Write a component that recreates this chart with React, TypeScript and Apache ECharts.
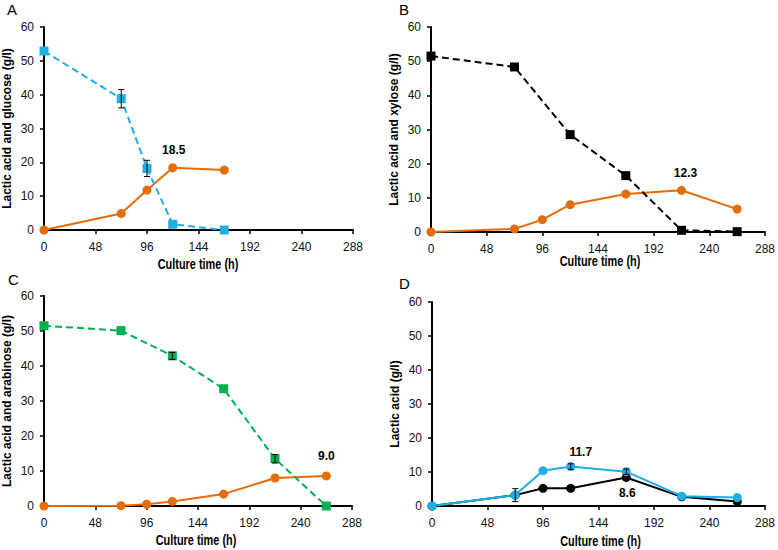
import React, { useEffect, useRef } from "react";
import * as echarts from "echarts";

// ---- Data ----
const xTicks = [0, 48, 96, 144, 192, 240, 288];
const yTicks = [0, 10, 20, 30, 40, 50, 60];

// Panel A
const timeGlucoseA = [0, 72, 96, 120, 168];
const glucoseA = [52.9, 38.8, 18.2, 1.7, 0];
const glucoseErrA = [0, 2.7, 2.4, 0, 0];
const timeLacticA = [0, 72, 96, 120, 168];
const lacticA = [0, 4.9, 11.8, 18.4, 17.7];
const peakA = { index: 3, text: "18.5" };

// Panel B
const timeXyloseB = [0, 72, 120, 168, 216, 264];
const xyloseB = [51.5, 48.3, 28.5, 16.5, 0.5, 0.1];
const timeLacticB = [0, 72, 96, 120, 168, 216, 264];
const lacticB = [0, 0.9, 3.6, 8.0, 11.1, 12.2, 6.7];
const peakB = { index: 5, text: "12.3" };

// Panel C
const timeArabinoseC = [0, 72, 120, 168, 216, 264];
const arabinoseC = [51.5, 50.1, 42.9, 33.5, 13.5, 0];
const arabinoseErrC = [0, 0, 1.0, 0, 1.2, 0];
const timeLacticC = [0, 72, 96, 120, 168, 216, 264];
const lacticC = [0, 0.1, 0.5, 1.3, 3.4, 8.0, 8.6];
const peakC = { index: 6, text: "9.0" };

// Panel D
const timeD = [0, 72, 96, 120, 168, 216, 264];
const lacticBlackD = [0, 3.2, 5.2, 5.2, 8.4, 2.7, 1.3];
const lacticBlackErrD = [0, 1.9, 0, 0, 0, 0, 0];
const lacticBlueD = [0, 3.2, 10.4, 11.6, 10.1, 2.9, 2.5];
const lacticBlueErrD = [0, 0, 0, 0.8, 0.8, 0, 0];
const peakBlackD = { index: 4, text: "8.6" };
const peakBlueD = { index: 3, text: "11.7" };

const panelLetters = ["A", "B", "C", "D"];
const yNames = [
  "Lactic acid and glucose (g/l)",
  "Lactic acid and xylose (g/l)",
  "Lactic acid and arabinose (g/l)",
  "Lactic acid (g/l)",
];
const xName = "Culture time (h)";

// ---- Styles ----
const FONT = "'Liberation Sans', Arial, sans-serif";
const ORANGE = "#E46C0A";
const BLUE = "#1FAEE6";
const GREEN = "#00B050";
const BLACK = "#000000";

const grids = [
  { left: 43, top: 27, width: 310, height: 203 },
  { left: 431, top: 27, width: 338, height: 205 },
  { left: 40, top: 296, width: 312, height: 210 },
  { left: 432, top: 302, width: 337, height: 204 },
];
const xTitleOffset = [35, 30, 35, 36];
const letterPos = [
  { left: 7, top: 2 },
  { left: 399, top: 2 },
  { left: 8, top: 272 },
  { left: 399, top: 276 },
];

function buildData(times: number[], vals: number[], peak?: { index: number; text: string }, labelCfg?: any) {
  return times.map((t, i) => {
    if (peak && peak.index === i) {
      return {
        value: [t, vals[i]],
        label: {
          show: true,
          formatter: peak.text,
          fontFamily: FONT,
          fontWeight: "bold",
          fontSize: 12,
          color: "#000",
          ...labelCfg,
        },
      };
    }
    return [t, vals[i]];
  });
}

function lineSeries(idx: number, times: number[], vals: number[], color: string, symbol: string, dashed: boolean, peak?: any, labelCfg?: any) {
  return {
    type: "line",
    xAxisIndex: idx,
    yAxisIndex: idx,
    data: buildData(times, vals, peak, labelCfg),
    symbol,
    symbolSize: symbol === "rect" ? 9 : 9,
    showSymbol: true,
    itemStyle: { color },
    lineStyle: { color, width: 2, type: dashed ? [7, 4] : "solid" },
    z: 3,
    emphasis: { disabled: true },
  };
}

function errSeries(idx: number, times: number[], vals: number[], errs: number[]) {
  const data: number[][] = [];
  times.forEach((t, i) => {
    if (errs[i] > 0) data.push([t, vals[i] - errs[i], vals[i] + errs[i]]);
  });
  return {
    type: "custom",
    xAxisIndex: idx,
    yAxisIndex: idx,
    data,
    z: 4,
    encode: { x: 0, y: [1, 2] },
    renderItem: (params: any, api: any) => {
      const x = api.value(0);
      const pLo = api.coord([x, api.value(1)]);
      const pHi = api.coord([x, api.value(2)]);
      const w = 3;
      const style = { stroke: "#000", lineWidth: 1 };
      return {
        type: "group",
        children: [
          { type: "line", shape: { x1: pHi[0], y1: pHi[1], x2: pLo[0], y2: pLo[1] }, style },
          { type: "line", shape: { x1: pHi[0] - w, y1: pHi[1], x2: pHi[0] + w, y2: pHi[1] }, style },
          { type: "line", shape: { x1: pLo[0] - w, y1: pLo[1], x2: pLo[0] + w, y2: pLo[1] }, style },
        ],
      };
    },
  };
}

export default function App() {
  const ref = useRef<HTMLDivElement>(null);
  useEffect(() => {
    document.body.style.margin = "0";
    if (!ref.current) return;
    const chart = echarts.init(ref.current, null, { renderer: "svg" });
    const axisLine = { show: true, lineStyle: { color: "#000", width: 2 } };
    const axisTick = { show: true, inside: false, length: 4, lineStyle: { color: "#000", width: 1.5 } };
    const xAxes = grids.map((_, i) => ({
      type: "value",
      gridIndex: i,
      min: xTicks[0],
      max: xTicks[xTicks.length - 1],
      interval: 48,
      axisLine,
      axisTick,
      splitLine: { show: false },
      axisLabel: { color: "#111", fontFamily: FONT, fontSize: 12, margin: 11 },
    }));
    const yAxes = grids.map((_, i) => ({
      type: "value",
      gridIndex: i,
      min: yTicks[0],
      max: yTicks[yTicks.length - 1],
      interval: 10,
      axisLine,
      axisTick,
      splitLine: { show: false },
      axisLabel: { color: "#111", fontFamily: FONT, fontSize: 12, margin: 10 },
      name: yNames[i],
      nameLocation: "middle",
      nameGap: 31,
      nameTextStyle: { fontFamily: FONT, fontWeight: "bold", fontSize: 12, color: "#000" },
    }));
    const topLabel = (dist: number, dx = 0) => ({ position: "top", distance: dist, offset: [dx, 0] });
    const series: any[] = [
      // A
      lineSeries(0, timeLacticA, lacticA, ORANGE, "circle", false, peakA, topLabel(7, 1)),
      lineSeries(0, timeGlucoseA, glucoseA, BLUE, "rect", true),
      errSeries(0, timeGlucoseA, glucoseA, glucoseErrA),
      // B
      lineSeries(1, timeLacticB, lacticB, ORANGE, "circle", false, peakB, topLabel(7, 4)),
      lineSeries(1, timeXyloseB, xyloseB, BLACK, "rect", true),
      // C
      lineSeries(2, timeLacticC, lacticC, ORANGE, "circle", false, peakC, topLabel(9, 0)),
      lineSeries(2, timeArabinoseC, arabinoseC, GREEN, "rect", true),
      errSeries(2, timeArabinoseC, arabinoseC, arabinoseErrC),
      // D
      lineSeries(3, timeD, lacticBlackD, BLACK, "circle", false, peakBlackD, { position: "bottom", distance: 5, offset: [1, 0] }),
      errSeries(3, timeD, lacticBlackD, lacticBlackErrD),
      lineSeries(3, timeD, lacticBlueD, BLUE, "circle", false, peakBlueD, topLabel(4, 10)),
      errSeries(3, timeD, lacticBlueD, lacticBlueErrD),
    ];
    const graphic = grids.map((g, i) => ({
      type: "text",
      x: g.left + g.width / 2,
      y: g.top + g.height + xTitleOffset[i],
      scaleX: 0.78,
      style: {
        text: xName,
        font: `bold 14px ${FONT}`,
        fill: "#000",
        align: "center",
        verticalAlign: "middle",
      },
    }));
    chart.setOption({
      animation: false,
      backgroundColor: "#fff",
      title: panelLetters.map((t, i) => ({
        text: t,
        left: letterPos[i].left,
        top: letterPos[i].top,
        padding: 0,
        textStyle: { fontFamily: FONT, fontWeight: "normal", fontSize: 15, color: "#000" },
      })),
      grid: grids,
      xAxis: xAxes,
      yAxis: yAxes,
      series,
      graphic,
    });
    return () => chart.dispose();
  }, []);
  return <div ref={ref} style={{ width: 778, height: 550 }} />;
}
